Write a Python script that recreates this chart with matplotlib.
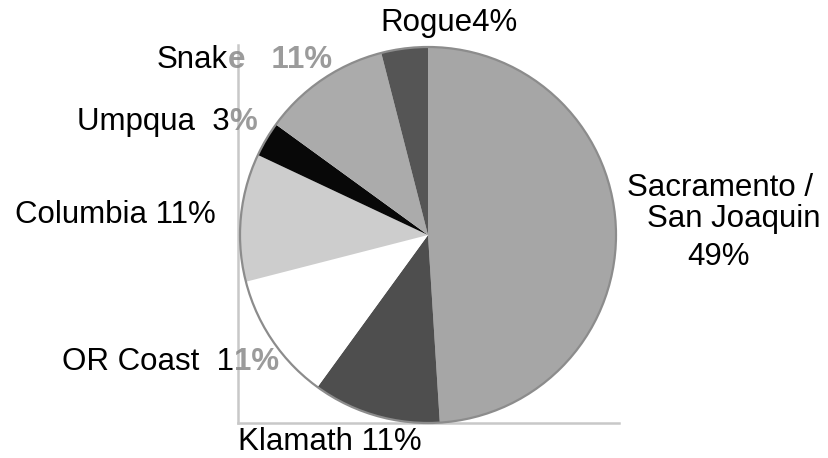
import matplotlib
matplotlib.use("Agg")
import matplotlib.pyplot as plt
from matplotlib.patches import Circle

plt.rcParams['font.family'] = ['Liberation Sans', 'DejaVu Sans']

# ---- data ----
rivers = ["Sacramento / San Joaquin", "Klamath", "OR Coast", "Columbia",
          "Umpqua", "Snake", "Rogue"]
shares = [49, 11, 11, 11, 3, 11, 4]
colors = ["#a6a6a6", "#4e4e4e", "#ffffff", "#cdcdcd", "#080808", "#ababab", "#555555"]

# label pieces: (black part, faded part, x_left, y_center from top)
label_parts = {
    "Rogue":    ("Rogue4%", "", 380, 23),
    "Snake":    ("Snak", "e   11%", 157, 60),
    "Umpqua":   ("Umpqua  3", "%", 77, 122),
    "Columbia": ("Columbia 11%", "", 15, 215),
    "OR Coast": ("OR Coast  1", "1%", 62, 362),
    "Klamath":  ("Klamath 11%", "", 238, 442),
}
sac_lines = [("Sacramento /", 627, 188), ("San Joaquin", 647, 219), ("49%", 687, 257)]

W, H = 829, 458
fig = plt.figure(figsize=(W / 100, H / 100), dpi=100)

# frame lines (left & bottom) of the scanned chart area
fx0, fx1, fy0, fy1 = 238, 619, 45, 423
fax = fig.add_axes([fx0 / W, (H - fy1) / H, (fx1 - fx0) / W, (fy1 - fy0) / H])
fax.set_xticks([]); fax.set_yticks([])
for s in ["top", "right"]:
    fax.spines[s].set_visible(False)
for s in ["left", "bottom"]:
    fax.spines[s].set_color("#c8c8c8")
    fax.spines[s].set_linewidth(1.8)
fax.patch.set_alpha(0)

ax = fig.add_axes([0, 0, 1, 1])
ax.patch.set_alpha(0)

cx, cy, r = 428, H - 235, 188
ax.pie(shares, colors=colors, startangle=90, counterclock=False,
       center=(cx, cy), radius=r, frame=True,
       wedgeprops=dict(linewidth=0))
ax.add_patch(Circle((cx, cy), r, fill=False, edgecolor="#8c8c8c", linewidth=1.6, zorder=5))
ax.set_xlim(0, W)
ax.set_ylim(0, H)
ax.set_aspect("auto")
ax.axis("off")

fs = 22.5
fig.canvas.draw()
renderer = fig.canvas.get_renderer()
for name, (blk, faded, x, y) in label_parts.items():
    t = ax.text(x, H - y, blk, fontsize=fs, color="black", ha="left", va="center", zorder=6)
    if faded:
        bb = t.get_window_extent(renderer)
        ax.text(bb.x1, H - y, faded, fontsize=fs, color="#8a8a8a", ha="left",
                va="center", zorder=6, fontweight="bold", alpha=0.85)
for txt, x, y in sac_lines:
    ax.text(x, H - y, txt, fontsize=fs, color="black", ha="left", va="center", zorder=6)

fig.savefig("out.png", dpi=100)
